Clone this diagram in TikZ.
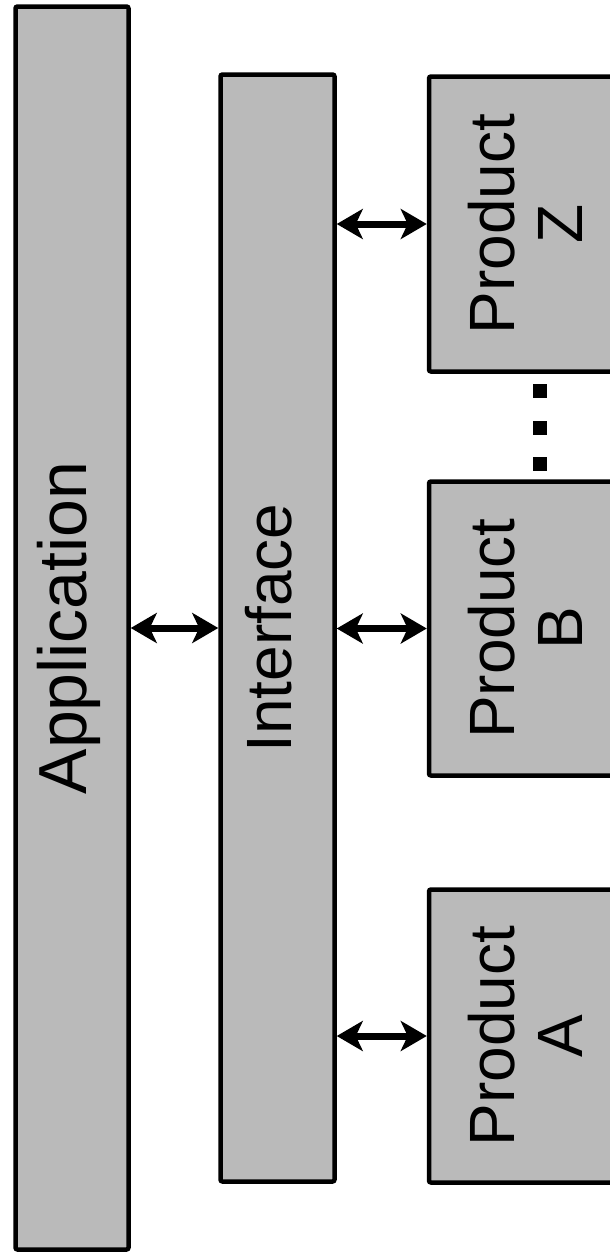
\documentclass[tikz,border=0pt]{standalone}
\usepackage{fontspec}
\setmainfont{Liberation Sans}
\usetikzlibrary{arrows.meta}
\tikzset{
  bar/.style={draw=black, line width=4.5pt, fill=black!27, rounded corners=2pt, inner sep=0pt, align=center},
  dblarrow/.style={line width=7pt, {Stealth[length=26pt,width=30pt,inset=7pt]}-{Stealth[length=26pt,width=30pt,inset=7pt]}},
  dotsq/.style={fill=black, inner sep=0pt, minimum size=14pt}
}
\newcommand{\rtext}[2][64]{\rotatebox{90}{\fontsize{#1}{68}\selectfont\begin{tabular}{@{}c@{}}#2\end{tabular}}}
\begin{document}
\begin{tikzpicture}[x=1pt,y=-1pt]
\useasboundingbox (0,0) rectangle (610,1254);
\clip (0,0) rectangle (610,1254);
\node[bar, minimum width=113pt, minimum height=1243pt] (app) at (72,628) {\rtext[68]{Application}};
\node[bar, minimum width=114pt, minimum height=1107pt] (intf) at (277.5,628) {\rtext{Interface}};
\node[bar, minimum width=212pt, minimum height=295pt] (pz) at (535,224) {\rtext{Product\\Z}};
\node[bar, minimum width=212pt, minimum height=294pt] (pb) at (535,628.5) {\rtext{Product\\B}};
\node[bar, minimum width=212pt, minimum height=293pt] (pa) at (535,1036) {\rtext{Product\\A}};
\node[dotsq] (d1) at (540,391) {};
\node[dotsq] (d2) at (540,428) {};
\node[dotsq] (d3) at (540,464) {};
\draw[dblarrow] (app.east) -- (intf.west);
\draw[dblarrow] (intf.east |- pz) -- (pz.west);
\draw[dblarrow] (intf.east |- pb) -- (pb.west);
\draw[dblarrow] (intf.east |- pa) -- (pa.west);
\end{tikzpicture}
\end{document}
